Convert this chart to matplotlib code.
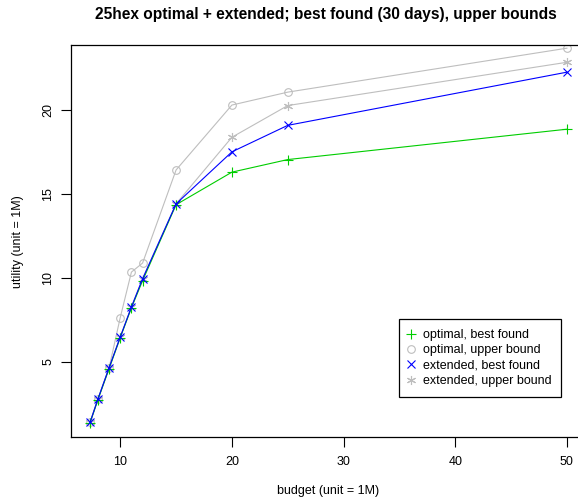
from matplotlib import pyplot as plt
from matplotlib.lines import Line2D

plt.rcParams['font.family'] = ['Liberation Sans', 'DejaVu Sans']

budget = [7.3, 8, 9, 10, 11, 12, 15, 20, 25, 50]

opt_best = [1.35, 2.72, 4.57, 6.42, 8.2, 9.82, 14.35, 16.29, 17.04, 18.85]
opt_upper = [1.37, 2.76, 4.62, 7.62, 10.33, 10.87, 16.42, 20.29, 21.06, 23.68]
ext_best = [1.38, 2.76, 4.63, 6.46, 8.25, 9.93, 14.4, 17.5, 19.08, 22.25]
ext_upper = [1.38, 2.76, 4.63, 6.46, 8.25, 9.93, 14.4, 18.37, 20.26, 22.84]

x_ticks = [10, 20, 30, 40, 50]
y_ticks = [5, 10, 15, 20]

green = '#00cd00'
grey = '#bebebe'
blue = '#0000ff'

W, H = 578, 499
fig = plt.figure(figsize=(W / 100, H / 100), dpi=100, facecolor='white')
# R-style plot region; right edge runs a bit past the figure
ax = fig.add_axes([71 / W, (H - 437) / H, (586 - 71) / W, (437 - 45) / H])

lw = 0.8
ms = 5.5
ax.plot(budget, opt_upper, color=grey, lw=lw, marker='o', ms=ms, mfc='none', mew=lw)
ax.plot(budget, ext_upper, color=grey, lw=lw, marker=(6, 2, 0), ms=ms + 1, mew=lw)
ax.plot(budget, opt_best, color=green, lw=lw, marker='+', ms=ms + 2, mew=lw)
ax.plot(budget, ext_best, color=blue, lw=lw, marker='x', ms=ms, mew=lw)

ax.set_xlim(5.59, 51.71)
ax.set_ylim(0.5, 23.87)
ax.set_xticks(x_ticks)
ax.set_yticks(y_ticks)
ax.tick_params(direction='out', length=7, width=0.8, labelsize=9)
ax.tick_params(axis='x', pad=7)
ax.tick_params(axis='y', pad=5)
for lbl in ax.get_yticklabels():
    lbl.set_rotation(90)
    lbl.set_va('center')
for s in ax.spines.values():
    s.set_linewidth(0.9)

fig.text(328 / W, 1 - 491 / H, 'budget (unit = 1M)', ha='center', va='center', fontsize=9)
fig.text(18 / W, 1 - 242 / H, 'utility (unit = 1M)', ha='center', va='center',
         rotation=90, fontsize=9)
fig.text(326 / W, 1 - 15 / H, '25hex optimal + extended; best found (30 days), upper bounds',
         ha='center', va='center', fontsize=11.2, fontweight='bold')

handles = [
    Line2D([], [], ls='none', marker='+', color=green, ms=ms + 2, mew=lw),
    Line2D([], [], ls='none', marker='o', color=grey, mfc='none', ms=ms, mew=lw),
    Line2D([], [], ls='none', marker='x', color=blue, ms=ms, mew=lw),
    Line2D([], [], ls='none', marker=(6, 2, 0), color=grey, ms=ms + 1, mew=lw),
]
labels = ['optimal, best found', 'optimal, upper bound',
          'extended, best found', 'extended, upper bound']
leg = ax.legend(handles, labels, loc='upper left',
                bbox_to_anchor=(399 / W, 1 - 319 / H), bbox_transform=fig.transFigure,
                fontsize=9, frameon=True, fancybox=False, framealpha=1,
                edgecolor='black', borderaxespad=0, handlelength=0.3,
                handletextpad=0.8, labelspacing=0.27, borderpad=0.8)
leg.get_frame().set_linewidth(0.9)

fig.savefig('out.png', dpi=100)
